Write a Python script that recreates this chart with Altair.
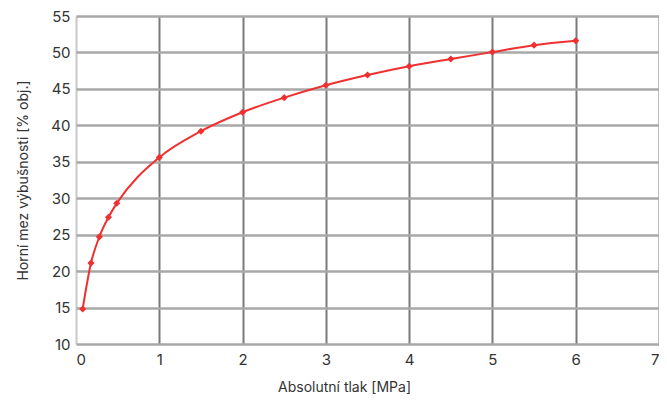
import altair as alt
import pandas as pd

pressure = [0.08, 0.18, 0.28, 0.39, 0.49, 1.0, 1.5, 2.0, 2.5, 3.0, 3.5, 4.0, 4.5, 5.0, 5.5, 6.0]
limit = [14.8, 21.1, 24.7, 27.4, 29.3, 35.6, 39.2, 41.8, 43.8, 45.5, 46.9, 48.1, 49.1, 50.05, 51.0, 51.6]

x_ticks = [0, 1, 2, 3, 4, 5, 6, 7]
y_ticks = [10, 15, 20, 25, 30, 35, 40, 45, 50, 55]

df = pd.DataFrame({"p": pressure, "v": limit})

FONT = "Inter"
RED = "#f03030"
XS = alt.Scale(domain=[0, 7], nice=False, zero=False)
YS = alt.Scale(domain=[10, 55], nice=False, zero=False)

x_enc = alt.X("p:Q", scale=XS,
              axis=alt.Axis(values=x_ticks, format="d", title="Absolutní tlak [MPa]",
                            grid=True, gridWidth=2,
                            gridColor=alt.condition("datum.value === 0", alt.value("#c8c8c8"), alt.value("#7a7a7a")),
                            domain=False, ticks=False, labelPadding=8, labelFontSize=15,
                            labelColor="#333333", titleFontSize=14, titleFontWeight="normal",
                            titleColor="#333333", titlePadding=13, titleX=268, titleAlign="center",
                            labelFont=FONT, titleFont=FONT))
y_enc = alt.Y("v:Q", scale=YS,
              axis=alt.Axis(values=y_ticks, format="d", title="Horní mez výbušnosti [% obj.]",
                            grid=True, gridWidth=2.5, gridColor="#a8a8a8",
                            domain=False, ticks=False, labelPadding=6, labelFontSize=15,
                            labelColor="#333333", titleFontSize=14, titleFontWeight="normal",
                            titleColor="#333333", titlePadding=20,
                            labelFont=FONT, titleFont=FONT))

line = alt.Chart(df).mark_line(color=RED, strokeWidth=2, interpolate="monotone").encode(x=x_enc, y=y_enc)
pts = alt.Chart(df).mark_point(color=RED, filled=True, shape="diamond", size=50, opacity=1).encode(x=x_enc, y=y_enc)

chart = alt.layer(line, pts).properties(
    width=583, height=328,
    autosize=alt.AutoSizeParams(type="none"),
    padding={"left": 68, "top": 8, "right": 0, "bottom": 52},
).configure_view(stroke=None)

chart.save("out.html", embed_options={"renderer": "svg", "actions": False})
